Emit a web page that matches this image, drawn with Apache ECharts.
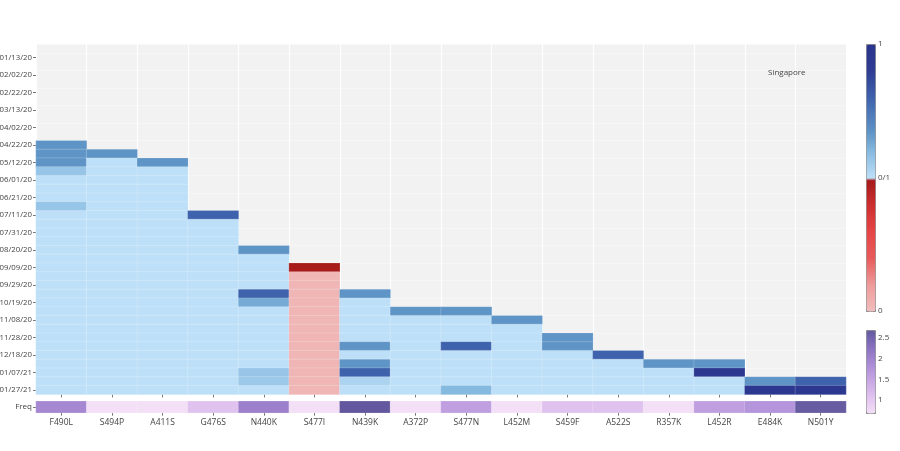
<!DOCTYPE html>
<html>
<head>
<meta charset="utf-8">
<script src="https://cdn.jsdelivr.net/npm/echarts@6/dist/echarts.min.js"></script>
<style>
  html, body { margin: 0; padding: 0; background: #fff; }
  #chart { width: 900px; height: 451px; }
</style>
</head>
<body>
<div id="chart"></div>
<script>
// ---- data ----
var dates = ['01/03/20', '01/13/20', '01/23/20', '02/02/20', '02/12/20', '02/22/20', '03/03/20', '03/13/20',
  '03/23/20', '04/02/20', '04/12/20', '04/22/20', '05/02/20', '05/12/20', '05/22/20', '06/01/20',
  '06/11/20', '06/21/20', '07/01/20', '07/11/20', '07/21/20', '07/31/20', '08/10/20', '08/20/20',
  '08/30/20', '09/09/20', '09/19/20', '09/29/20', '10/09/20', '10/19/20', '10/29/20', '11/08/20',
  '11/18/20', '11/28/20', '12/08/20', '12/18/20', '12/28/20', '01/07/21', '01/17/21', '01/27/21'];

var mutations = ['F490L', 'S494P', 'A411S', 'G476S', 'N440K', 'S477I', 'N439K', 'A372P',
  'S477N', 'L452M', 'S459F', 'A522S', 'R357K', 'L452R', 'E484K', 'N501Y'];

// first date with a value, per mutation
var firstDates = ['04/22/20', '05/02/20', '05/12/20', '07/11/20', '08/20/20', '09/09/20', '10/09/20', '10/29/20',
  '10/29/20', '11/08/20', '11/28/20', '12/18/20', '12/28/20', '12/28/20', '01/17/21', '01/17/21'];

// values from the first date down to 01/27/21
var colF490L = [0.67, 0.67, 0.67, 0.57, 0.5, 0.5, 0.5, 0.57, 0.5, 0.5, 0.5, 0.5, 0.5, 0.5, 0.5, 0.5, 0.5, 0.5,
  0.5, 0.5, 0.5, 0.5, 0.5, 0.5, 0.5, 0.5, 0.5, 0.5, 0.5];
var colS494P = [0.67, 0.5, 0.5, 0.5, 0.5, 0.5, 0.5, 0.5, 0.5, 0.5, 0.5, 0.5, 0.5, 0.5, 0.5, 0.5, 0.5, 0.5, 0.5,
  0.5, 0.5, 0.5, 0.5, 0.5, 0.5, 0.5, 0.5, 0.5];
var colA411S = [0.67, 0.5, 0.5, 0.5, 0.5, 0.5, 0.5, 0.5, 0.5, 0.5, 0.5, 0.5, 0.5, 0.5, 0.5, 0.5, 0.5, 0.5, 0.5,
  0.5, 0.5, 0.5, 0.5, 0.5, 0.5, 0.5, 0.5];
var colG476S = [0.8, 0.5, 0.5, 0.5, 0.5, 0.5, 0.5, 0.5, 0.5, 0.5, 0.5, 0.5, 0.5, 0.5, 0.5, 0.5, 0.5, 0.5, 0.5,
  0.5, 0.5];
var colN440K = [0.67, 0.5, 0.5, 0.5, 0.5, 0.8, 0.63, 0.5, 0.5, 0.5, 0.5, 0.5, 0.5, 0.5, 0.57, 0.56, 0.5];
var colS477I = [0.49, 0.02, 0.02, 0.02, 0.02, 0.02, 0.02, 0.02, 0.02, 0.02, 0.02, 0.02, 0.02, 0.02, 0.02];
var colN439K = [0.67, 0.5, 0.5, 0.5, 0.5, 0.5, 0.67, 0.5, 0.67, 0.8, 0.53, 0.5];
var colA372P = [0.67, 0.5, 0.5, 0.5, 0.5, 0.5, 0.5, 0.5, 0.5, 0.5];
var colS477N = [0.67, 0.5, 0.5, 0.5, 0.8, 0.5, 0.5, 0.5, 0.5, 0.6];
var colL452M = [0.67, 0.5, 0.5, 0.5, 0.5, 0.5, 0.5, 0.5, 0.5];
var colS459F = [0.67, 0.67, 0.5, 0.5, 0.5, 0.5, 0.5];
var colA522S = [0.8, 0.5, 0.5, 0.5, 0.5];
var colR357K = [0.67, 0.5, 0.5, 0.5];
var colL452R = [0.67, 0.96, 0.5, 0.5];
var colE484K = [0.67, 0.96];
var colN501Y = [0.8, 0.96];

var columns = [colF490L, colS494P, colA411S, colG476S, colN440K, colS477I, colN439K, colA372P,
  colS477N, colL452M, colS459F, colA522S, colR357K, colL452R, colE484K, colN501Y];

var freqValues = [1.96, 0.71, 0.71, 1.11, 2.08, 0.71, 2.72, 0.71, 1.61, 0.71, 1.11, 1.11, 0.71, 1.61, 1.78, 2.68];

var mainTicks = ['0', '0/1', '1'];
var freqTicks = [1, 1.5, 2, 2.5];
var freqMin = 0.71, freqMax = 2.72;

// ---- colour scales ----
var splitStops = [
  [0, '#f1bdbd'], [0.1, '#ee9a9a'], [0.2, '#e85a5a'], [0.3, '#e64545'], [0.4, '#cc2e2e'], [0.499, '#a31919'],
  [0.5, '#bde0f8'], [0.6, '#86b9df'], [0.67, '#5f95c6'], [0.8, '#3f62ad'], [0.9, '#2e3d93'], [1, '#2b348e']
];
var purpStops = [
  [0, '#f3e0f7'], [1 / 6, '#e4c7f1'], [2 / 6, '#d1afe8'], [3 / 6, '#b998dd'],
  [4 / 6, '#9f82ce'], [5 / 6, '#826dba'], [1, '#63589f']
];

function hexToRgb(h) {
  return [parseInt(h.slice(1, 3), 16), parseInt(h.slice(3, 5), 16), parseInt(h.slice(5, 7), 16)];
}
function sample(stops, t) {
  for (var i = 1; i < stops.length; i++) {
    if (t <= stops[i][0]) {
      var a = stops[i - 1], b = stops[i];
      var f = (t - a[0]) / (b[0] - a[0]);
      var ca = hexToRgb(a[1]), cb = hexToRgb(b[1]);
      return 'rgb(' + ca.map(function (c, k) { return Math.round(c + (cb[k] - c) * f); }).join(',') + ')';
    }
  }
  return stops[stops.length - 1][1];
}
function buildScale(stops, n) {
  var out = [];
  for (var i = 0; i < n; i++) out.push(sample(stops, i / (n - 1)));
  return out;
}

// ---- series data ----
var cellData = [];
columns.forEach(function (col, x) {
  var start = dates.indexOf(firstDates[x]);
  col.forEach(function (v, k) { cellData.push([x, start + k, v]); });
});
var freqData = freqValues.map(function (v, x) { return [x, 0, v]; });

// ---- layout ----
var plotLeft = 36, plotWidth = 810;
var mainTop = 44.4, mainHeight = 350;
var freqTop = 401.3, freqHeight = 11.4;
var barLeft = 866, barWidth = 9;
var bar1Top = 44, bar1Height = 267;
var bar2Top = 330, bar2Height = 83;
var font = 'Open Sans';
var textColor = '#444';

var labelGraphics = [];
mainTicks.forEach(function (t, i) {
  labelGraphics.push({
    type: 'text', left: barLeft + barWidth + 3, top: bar1Top + bar1Height * (1 - i / 2) - 4,
    style: { text: t, font: '8px "Open Sans"', fill: textColor }
  });
});
freqTicks.forEach(function (t) {
  labelGraphics.push({
    type: 'text', left: barLeft + barWidth + 3,
    top: bar2Top + bar2Height * (freqMax - t) / (freqMax - freqMin) - 5,
    style: { text: String(t), font: '8px "Open Sans"', fill: textColor }
  });
});

var chart = echarts.init(document.getElementById('chart'));
var option = {
  animation: false,
  backgroundColor: '#fff',
  textStyle: { fontFamily: font },
  title: {
    text: 'Singapore', left: 763, top: 64,
    textStyle: { fontSize: 8, fontWeight: 'normal', color: textColor, fontFamily: font }
  },
  grid: [
    { left: plotLeft, top: mainTop, width: plotWidth, height: mainHeight, show: true, backgroundColor: '#f2f2f2',
      borderWidth: 0, containLabel: false, outerBoundsMode: 'none' },
    { left: plotLeft, top: freqTop, width: plotWidth, height: freqHeight, show: false,
      containLabel: false, outerBoundsMode: 'none' }
  ],
  xAxis: [
    {
      type: 'category', gridIndex: 0, data: mutations,
      axisLine: { show: false },
      axisTick: { show: true, alignWithLabel: true, length: 3, lineStyle: { color: '#777' } },
      axisLabel: { show: false },
      splitLine: { show: true, lineStyle: { color: '#fff', width: 1 } }
    },
    {
      type: 'category', gridIndex: 1, data: mutations,
      axisLine: { show: false },
      axisTick: { show: true, alignWithLabel: true, length: 3, lineStyle: { color: '#777' } },
      axisLabel: { fontSize: 8.5, color: textColor, margin: 5, fontFamily: font },
      splitLine: { show: false }
    }
  ],
  yAxis: [
    {
      type: 'category', gridIndex: 0, data: dates, inverse: true,
      axisLine: { show: false },
      axisTick: { show: true, alignWithLabel: true, length: 3, interval: function (i) { return i % 2 === 1; }, lineStyle: { color: '#777' } },
      axisLabel: { fontSize: 7.8, color: textColor, margin: 4, fontFamily: font, interval: function (i) { return i % 2 === 1; } },
      splitLine: { show: true, lineStyle: { color: 'rgba(255,255,255,0.5)', width: 0.6 } }
    },
    {
      type: 'category', gridIndex: 1, data: ['Freq'],
      axisLine: { show: false },
      axisTick: { show: true, alignWithLabel: true, length: 3, lineStyle: { color: '#777' } },
      axisLabel: { fontSize: 8, color: textColor, margin: 4, fontFamily: font }
    }
  ],
  visualMap: [
    {
      type: 'continuous', seriesIndex: 0, dimension: 2, min: 0, max: 1,
      orient: 'vertical', left: barLeft, top: bar1Top, itemWidth: barWidth, itemHeight: bar1Height,
      calculable: false, hoverLink: false, text: null, padding: 0,
      borderColor: '#888', borderWidth: 1,
      inRange: { color: buildScale(splitStops, 401) }
    },
    {
      type: 'continuous', seriesIndex: 1, dimension: 2, min: freqMin, max: freqMax,
      orient: 'vertical', left: barLeft, top: bar2Top, itemWidth: barWidth, itemHeight: bar2Height,
      calculable: false, hoverLink: false, text: null, padding: 0,
      borderColor: '#888', borderWidth: 1,
      inRange: { color: buildScale(purpStops, 101) }
    }
  ],
  graphic: labelGraphics,
  series: [
    {
      type: 'heatmap', xAxisIndex: 0, yAxisIndex: 0, data: cellData,
      itemStyle: { borderColor: 'rgba(255,255,255,0.3)', borderWidth: 0.6 },
      emphasis: { disabled: true }
    },
    {
      type: 'heatmap', xAxisIndex: 1, yAxisIndex: 1, data: freqData,
      itemStyle: { borderColor: 'rgba(255,255,255,0.3)', borderWidth: 0.6 },
      emphasis: { disabled: true }
    }
  ]
};
chart.setOption(option);
</script>
</body>
</html>
